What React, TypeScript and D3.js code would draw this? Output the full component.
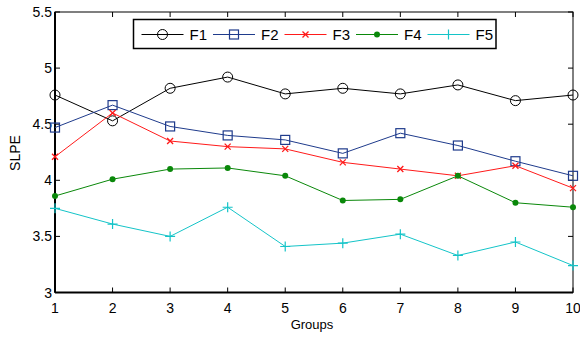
import * as React from 'react';
import * as d3 from 'd3';

const groups = [1, 2, 3, 4, 5, 6, 7, 8, 9, 10];
const f1 = [4.76, 4.53, 4.82, 4.92, 4.77, 4.82, 4.77, 4.85, 4.71, 4.76];
const f2 = [4.47, 4.67, 4.48, 4.40, 4.36, 4.24, 4.42, 4.31, 4.17, 4.04];
const f3 = [4.21, 4.60, 4.35, 4.30, 4.28, 4.16, 4.10, 4.04, 4.13, 3.93];
const f4 = [3.86, 4.01, 4.10, 4.11, 4.04, 3.82, 3.83, 4.04, 3.80, 3.76];
const f5 = [3.75, 3.61, 3.50, 3.76, 3.41, 3.44, 3.52, 3.33, 3.45, 3.24];
const yTicks = [3, 3.5, 4, 4.5, 5, 5.5];
const seriesNames = ['F1', 'F2', 'F3', 'F4', 'F5'];

type Series = { name: string, values: number[], color: string, marker: string };

const series: Series[] = [
    { name: seriesNames[0], values: f1, color: '#000000', marker: 'circle' },
    { name: seriesNames[1], values: f2, color: '#1f3b8c', marker: 'square' },
    { name: seriesNames[2], values: f3, color: '#ff1a1a', marker: 'x' },
    { name: seriesNames[3], values: f4, color: '#0a880a', marker: 'dot' },
    { name: seriesNames[4], values: f5, color: '#14c4c8', marker: 'plus' },
];

const dim = { left: 55, right: 573, top: 12, bottom: 292.5 };

function Marker({ type, x, y, color }: { type: string, x: number, y: number, color: string }) {
    if (type === 'circle') {
        return <circle cx={x} cy={y} r={5} fill="none" stroke={color} strokeWidth={1} />;
    }
    if (type === 'square') {
        return <rect x={x - 4.5} y={y - 4.5} width={9} height={9} fill="none" stroke={color} strokeWidth={1.2} />;
    }
    if (type === 'x') {
        return <path d={`M${x - 3},${y - 3}L${x + 3},${y + 3}M${x - 3},${y + 3}L${x + 3},${y - 3}`} stroke={color} strokeWidth={1.3} />;
    }
    if (type === 'dot') {
        return <circle cx={x} cy={y} r={3} fill={color} />;
    }
    return <path d={`M${x - 5},${y}L${x + 5},${y}M${x},${y - 5}L${x},${y + 5}`} stroke={color} strokeWidth={1.2} />;
}

export default function App() {
    const xScale = d3.scaleLinear().domain([1, 10]).range([dim.left, dim.right]);
    const yScale = d3.scaleLinear().domain([3, 5.5]).range([dim.bottom, dim.top]);
    const line = d3.line<number>()
        .x((_, i) => xScale(groups[i]))
        .y(d => yScale(d));

    const font = 'Liberation Sans, Arial, sans-serif';
    const legend = { x: 133.5, y: 19.5, w: 362.5, h: 29, step: 71.5 };

    return (
        <svg width={580} height={337} style={{ position: 'absolute', left: 0, top: 0, background: '#fff' }} fontFamily={font}>
            {/* frame */}
            <rect x={dim.left} y={dim.top} width={dim.right - dim.left} height={dim.bottom - dim.top} fill="none" stroke="#000" strokeWidth={1} />
            <line x1={dim.left} x2={dim.left} y1={dim.top} y2={dim.bottom} stroke="#000" strokeWidth={2} />
            <line x1={dim.left} x2={dim.right} y1={dim.bottom} y2={dim.bottom} stroke="#000" strokeWidth={2} />
            {groups.map(g => (
                <g key={'xt' + g}>
                    <line x1={xScale(g)} x2={xScale(g)} y1={dim.bottom} y2={dim.bottom - 5} stroke="#000" />
                    <line x1={xScale(g)} x2={xScale(g)} y1={dim.top} y2={dim.top + 5} stroke="#000" />
                    <text x={xScale(g)} y={313} textAnchor="middle" fontSize={14}>{g}</text>
                </g>
            ))}
            {yTicks.map(t => (
                <g key={'yt' + t}>
                    <line x1={dim.left} x2={dim.left + 5} y1={yScale(t)} y2={yScale(t)} stroke="#000" />
                    <line x1={dim.right} x2={dim.right - 5} y1={yScale(t)} y2={yScale(t)} stroke="#000" />
                    <text x={52} y={yScale(t) + 5} textAnchor="end" fontSize={14}>{t}</text>
                </g>
            ))}
            <text x={312} y={329} textAnchor="middle" fontSize={13}>Groups</text>
            <text transform={`translate(20, 153) rotate(-90)`} textAnchor="middle" fontSize={14}>SLPE</text>

            {series.map(s => (
                <g key={s.name}>
                    <path d={line(s.values)!} fill="none" stroke={s.color} strokeWidth={1} />
                    {s.values.map((v, i) => (
                        <Marker key={i} type={s.marker} x={xScale(groups[i])} y={yScale(v)} color={s.color} />
                    ))}
                </g>
            ))}

            {/* legend */}
            <rect x={legend.x} y={legend.y} width={legend.w} height={legend.h} fill="#fff" stroke="#000" strokeWidth={1.5} />
            {series.map((s, i) => {
                const x0 = 141.5 + i * legend.step;
                const cy = legend.y + legend.h / 2 + 0.5;
                return (
                    <g key={'lg' + s.name}>
                        <line x1={x0} x2={x0 + 42} y1={cy} y2={cy} stroke={s.color} />
                        <Marker type={s.marker} x={x0 + 21} y={cy} color={s.color} />
                        <text x={x0 + 48} y={cy + 5.5} fontSize={15}>{s.name}</text>
                    </g>
                );
            })}
        </svg>
    );
}
